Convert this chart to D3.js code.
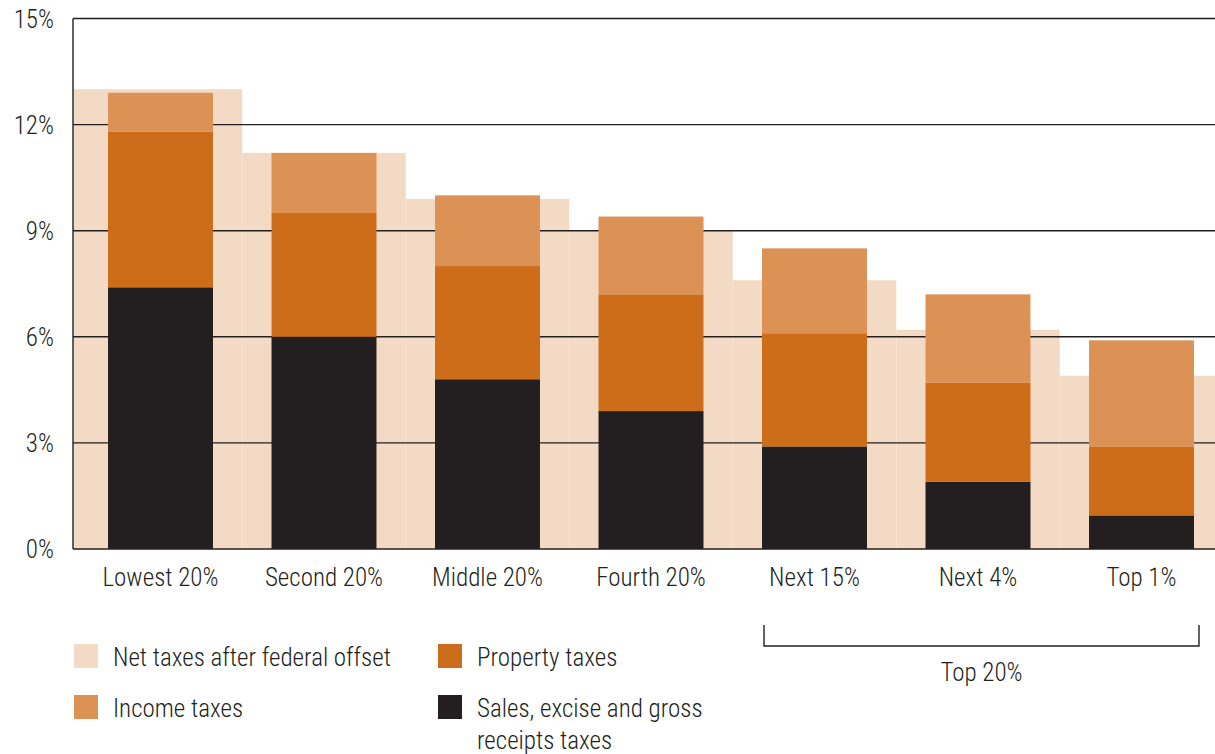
<!DOCTYPE html>
<html><head><meta charset="utf-8">
<script src="https://cdn.jsdelivr.net/npm/d3@7"></script>
<style>
body{margin:0;background:#fff;}
text{font-family:"Liberation Sans Narrow","Roboto Condensed","Arial Narrow",Roboto,sans-serif;font-weight:300;fill:#231f20;}
</style></head>
<body><svg id="c" width="1215" height="754"></svg>
<script>
const categories = ["Lowest 20%","Second 20%","Middle 20%","Fourth 20%","Next 15%","Next 4%","Top 1%"];
const netTaxes = [13.0, 11.2, 9.9, 9.0, 7.6, 6.2, 4.9];
const salesTaxes = [7.4, 6.0, 4.8, 3.9, 2.9, 1.9, 0.95];
const propertyTaxes = [4.4, 3.5, 3.2, 3.3, 3.2, 2.8, 1.95];
const incomeTaxes = [1.1, 1.7, 2.0, 2.2, 2.4, 2.5, 3.0];
const yTicks = [0, 3, 6, 9, 12, 15];
const tickLabels = ["0%","3%","6%","9%","12%","15%"];
const groupLabel = "Top 20%";

const colors = {net:"#f3dac4", income:"#dd9255", property:"#cd6d19", sales:"#231f20"};
const svg = d3.select("#c");
const L = 73, R = 1215, T = 18.5, B = 549;

const x = d3.scaleBand().domain(categories).range([78.75, 1223.25]).paddingInner(0.358).paddingOuter(0.179);
const y = d3.scaleLinear().domain([0, 15]).range([B, T]);
const step = x.step();

// net taxes background (stepped)
svg.append("g").selectAll("rect").data(categories).join("rect")
  .attr("x", (c,i) => i === 0 ? L : x(c) + x.bandwidth()/2 - step/2)
  .attr("width", (c,i) => {
    const l = i === 0 ? L : x(c) + x.bandwidth()/2 - step/2;
    const r = i === categories.length-1 ? R : x(c) + x.bandwidth()/2 + step/2;
    return r - l;
  })
  .attr("y", (c,i) => y(netTaxes[i]))
  .attr("height", (c,i) => y(0) - y(netTaxes[i]))
  .attr("fill", colors.net);

// gridlines
svg.append("g").selectAll("line").data(yTicks).join("line")
  .attr("x1", L).attr("x2", R)
  .attr("y1", d => y(d)).attr("y2", d => y(d))
  .attr("stroke", "#231f20").attr("stroke-width", 1.4);
svg.append("line").attr("x1", L).attr("x2", L).attr("y1", y(15)).attr("y2", y(0))
  .attr("stroke", "#231f20").attr("stroke-width", 1.4);

// stacked bars
const rows = categories.map((c,i) => ({cat:c, sales:salesTaxes[i], property:propertyTaxes[i], income:incomeTaxes[i]}));
const stack = d3.stack().keys(["sales","property","income"])(rows);
svg.append("g").selectAll("g").data(stack).join("g")
  .attr("fill", s => colors[s.key])
  .selectAll("rect").data(s => s).join("rect")
  .attr("x", d => x(d.data.cat))
  .attr("width", x.bandwidth())
  .attr("y", d => y(d[1]))
  .attr("height", d => y(d[0]) - y(d[1]));

// y tick labels
svg.append("g").selectAll("text").data(yTicks).join("text")
  .attr("x", 54).attr("y", d => y(d) + 9)
  .attr("text-anchor", "end").attr("font-size", 25)
  .text((d,i) => tickLabels[i]);

// category labels
svg.append("g").selectAll("text").data(categories).join("text")
  .attr("x", c => x(c) + x.bandwidth()/2).attr("y", 586)
  .attr("text-anchor", "middle").attr("font-size", 25)
  .text(c => c);

// bracket for top 20%
const bx1 = x("Next 15%") + 2, bx2 = x("Top 1%") + x.bandwidth() + 5;
svg.append("path")
  .attr("d", `M${bx1},625V646H${bx2}V625`)
  .attr("fill", "none").attr("stroke", "#231f20").attr("stroke-width", 1.4);
svg.append("text").attr("x", (bx1+bx2)/2).attr("y", 681)
  .attr("text-anchor", "middle").attr("font-size", 25).text(groupLabel);

// legend
const legend = [
  {k:"net", label:["Net taxes after federal offset"], x:74, y:644},
  {k:"income", label:["Income taxes"], x:74, y:695},
  {k:"property", label:["Property taxes"], x:438, y:644},
  {k:"sales", label:["Sales, excise and gross","receipts taxes"], x:438, y:695}
];
const lg = svg.append("g").selectAll("g").data(legend).join("g");
lg.append("rect").attr("x", d => d.x).attr("y", d => d.y).attr("width", 24).attr("height", 24)
  .attr("fill", d => colors[d.k]);
lg.each(function(d){
  const t = d3.select(this).append("text").attr("font-size", 25);
  d.label.forEach((s,i) => t.append("tspan").attr("x", d.x + 39).attr("y", d.y + 22 + i*32).text(s));
});
</script></body></html>
